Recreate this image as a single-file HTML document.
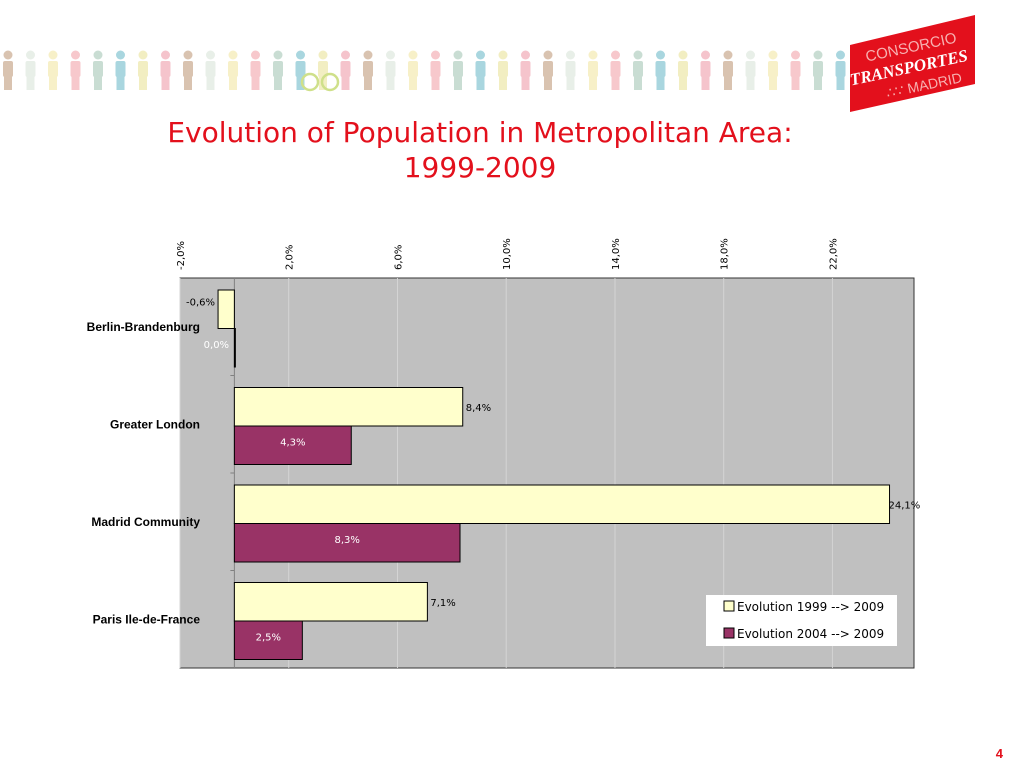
<!DOCTYPE html>
<html><head><meta charset="utf-8">
<style>
body{margin:0;width:1024px;height:768px;background:#fff;overflow:hidden;font-family:"Liberation Sans",sans-serif;}
svg{position:absolute;left:0;top:0;}
</style></head>
<body>
<svg id="chart" width="1024" height="768">
  <g id="people"></g>
  <g>
    <polygon points="850,45 975,15 975,84 850,112" fill="#e3101c"/>
    <text x="912" y="52" font-size="15" fill="#f7b0b0" text-anchor="middle" transform="rotate(-12 912 52)" font-family="Liberation Sans, sans-serif">CONSORCIO</text>
    <text x="910" y="73" font-size="17" font-weight="bold" font-style="italic" fill="#fff" text-anchor="middle" transform="rotate(-12 910 73)" font-family="Liberation Serif, serif">TRANSPORTES</text>
    <text x="925" y="90" font-size="14" fill="#f7b0b0" text-anchor="middle" transform="rotate(-12 925 90)" font-family="Liberation Sans, sans-serif">∴∵ MADRID</text>
  </g>
  <text x="480" y="142" font-size="28" fill="#e3101c" text-anchor="middle" font-family="DejaVu Sans, Liberation Sans, sans-serif">Evolution of Population in Metropolitan Area:</text>
  <text x="480" y="177" font-size="28" fill="#e3101c" text-anchor="middle" font-family="DejaVu Sans, Liberation Sans, sans-serif">1999-2009</text>
  <g id="plot"></g>
  <g>
    <rect x="706" y="595" width="191" height="51" fill="#fff"/>
    <rect x="724" y="601" width="10" height="10" fill="#ffffcc" stroke="#000" stroke-width="1"/>
    <text x="737" y="611" font-size="12" font-family="DejaVu Sans, sans-serif">Evolution 1999 --&gt; 2009</text>
    <rect x="724" y="628" width="10" height="10" fill="#993366" stroke="#000" stroke-width="1"/>
    <text x="737" y="638" font-size="12" font-family="DejaVu Sans, sans-serif">Evolution 2004 --&gt; 2009</text>
  </g>
  <text x="1003" y="758" font-size="13" font-weight="bold" fill="#e3101c" text-anchor="end">4</text>
</svg>
<script>
const categories=["Berlin-Brandenburg","Greater London","Madrid Community","Paris Ile-de-France"];
const series1999=[-0.6,8.4,24.1,7.1];
const series2004=[0.0,4.3,8.3,2.5];
const labels1999=["-0,6%","8,4%","24,1%","7,1%"];
const labels2004=["0,0%","4,3%","8,3%","2,5%"];
const tickValues=[-2,2,6,10,14,18,22];
const tickLabels=["-2,0%","2,0%","6,0%","10,0%","14,0%","18,0%","22,0%"];

const NS="http://www.w3.org/2000/svg";
const L=180,R=914,T=278,B=668,XMIN=-2,XMAX=25;
const x=v=>L+(v-XMIN)/(XMAX-XMIN)*(R-L);
const band=(B-T)/categories.length;
const plot=document.getElementById('plot');
function mk(tag,attrs,parent){const e=document.createElementNS(NS,tag);for(const k in attrs)e.setAttribute(k,attrs[k]);(parent||plot).appendChild(e);return e;}

const bg=mk('rect',{x:L,y:T,width:R-L,height:B-T,fill:'#c0c0c0',stroke:'#333','stroke-width':1});


tickValues.forEach((v,i)=>{
  const gl=mk('line',{x1:x(v),x2:x(v),y1:T,y2:B,stroke:'#d4d4d4','stroke-width':1});
  
  
  const tx=x(v)+4,ty=270;
  const t=mk('text',{x:tx,y:ty,'font-size':10,'font-family':'DejaVu Sans, sans-serif',transform:`rotate(-90 ${tx} ${ty})`});
  t.textContent=tickLabels[i];
  
  
});
const ax=mk('line',{x1:x(0),x2:x(0),y1:T,y2:B,stroke:'#808080','stroke-width':1});


categories.forEach((c,i)=>{
  const y0=T+i*band;
  const bh=38.5, top=y0+12;
  if(i>0){const tk=mk('line',{x1:x(0)-4,x2:x(0),y1:y0,y2:y0,stroke:'#808080'});}
  const lab=mk('text',{x:200,y:y0+band/2+4,'font-size':12,'font-weight':'bold','text-anchor':'end'});
  lab.textContent=c;
  
  
  const v1=series1999[i],v2=series2004[i];
  const b1=mk('rect',{x:Math.min(x(0),x(v1)),y:top,width:Math.max(Math.abs(x(v1)-x(0)),0.5),height:bh,fill:'#ffffcc',stroke:'#000','stroke-width':1});
  
  
  const b2=mk('rect',{x:Math.min(x(0),x(v2)),y:top+bh,width:Math.max(Math.abs(x(v2)-x(0)),1),height:bh,fill:'#993366',stroke:'#000','stroke-width':1});
  
  
  let l1;
  if(v1<0){l1=mk('text',{x:x(v1)-3,y:top+bh/2-4,'font-size':10,'text-anchor':'end','font-family':'DejaVu Sans, sans-serif'});}
  else{l1=mk('text',{x:x(v1)+3,y:top+bh/2+4,'font-size':10,'font-family':'DejaVu Sans, sans-serif'});}
  if(v1>20){l1.setAttribute('x',x(v1)-1);}
  l1.textContent=labels1999[i];
  
  
  const l2=mk('text',{x:(x(0)+x(v2))/2,y:top+bh+bh/2,'font-size':10,'text-anchor':'middle',fill:'#fff','font-family':'DejaVu Sans, sans-serif'});
  if(v2===0){l2.setAttribute('x',x(0)-18);}
  l2.textContent=labels2004[i];
  
  
});
// decorative people banner
const people=document.getElementById('people');
const cols=['#d9c3b0','#e8efe8','#f7f0c8','#f7c8cc','#c9ddd3','#a9d6df','#f2eec2','#f5c4cc'];
for(let k=0;k<38;k++){
  const px=8+k*22.5, c=cols[k%cols.length];
  const g=mk('g',{},people);
  mk('circle',{cx:px,cy:55,r:4.5,fill:c},g);
  mk('rect',{x:px-5,y:61,width:10,height:16,rx:2,fill:c},g);
  mk('rect',{x:px-4,y:76,width:8,height:14,fill:c},g);
}
mk('circle',{cx:310,cy:82,r:8,fill:'none',stroke:'#cfe08a','stroke-width':2.5},people);
mk('circle',{cx:330,cy:82,r:8,fill:'none',stroke:'#cfe08a','stroke-width':2.5},people);
</script>
</body></html>
